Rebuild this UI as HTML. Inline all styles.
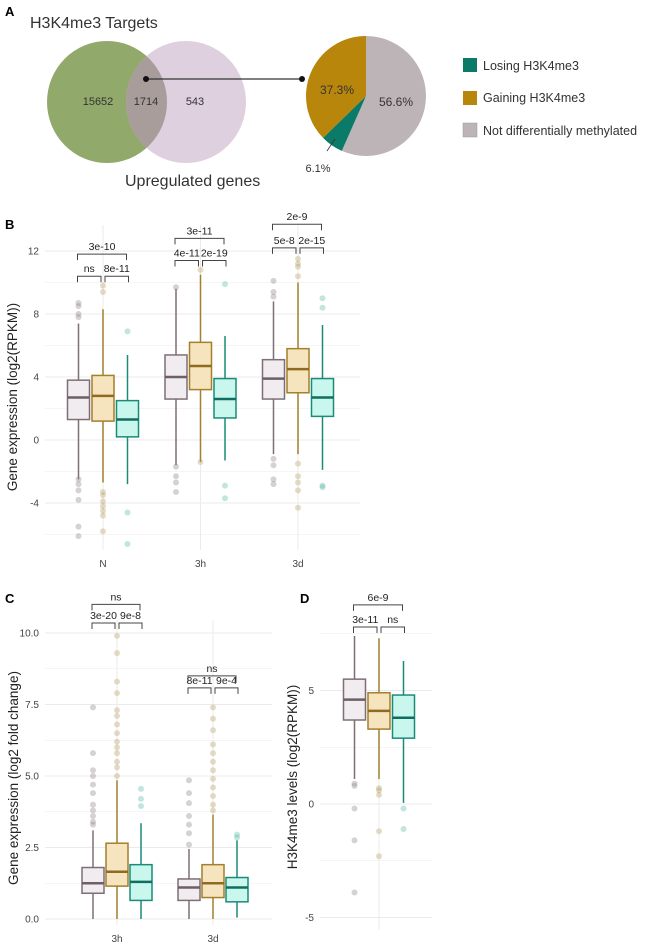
<!DOCTYPE html>
<html><head><meta charset="utf-8"><style>
body{margin:0;background:#fff}
svg{display:block;font-family:"Liberation Sans",sans-serif}
</style></head><body>
<svg id="fig" width="649" height="949" viewBox="0 0 649 949" xmlns="http://www.w3.org/2000/svg">
<g>
<text x="5" y="16" font-size="13" font-weight="bold">A</text>
<text x="30" y="28" font-size="16" fill="#333">H3K4me3 Targets</text>
<ellipse cx="107" cy="102" rx="60" ry="61" fill="#92a96c"/>
<ellipse cx="186" cy="102" rx="60" ry="61" fill="#d9c8da" opacity="0.85"/>
<clipPath id="cg"><ellipse cx="107" cy="102" rx="60" ry="61"/></clipPath>
<ellipse cx="186" cy="102" rx="60" ry="61" fill="#a99d9b" clip-path="url(#cg)"/>
<text x="98" y="105" font-size="11" text-anchor="middle" fill="#333">15652</text>
<text x="146" y="105" font-size="11" text-anchor="middle" fill="#333">1714</text>
<text x="195" y="105" font-size="11" text-anchor="middle" fill="#333">543</text>
<text x="125" y="186" font-size="16" fill="#333">Upregulated genes</text>
<line x1="146" y1="79" x2="302" y2="79" stroke="#333" stroke-width="1.2"/>
<circle cx="146" cy="79" r="3" fill="#111"/>
<circle cx="302" cy="79" r="3" fill="#111"/>
<g id="pie"></g>
<text x="337" y="94" font-size="12" text-anchor="middle" fill="#333">37.3%</text>
<text x="396" y="106" font-size="12" text-anchor="middle" fill="#333">56.6%</text>
<line x1="327" y1="151" x2="335" y2="139" stroke="#333" stroke-width="0.8"/>
<text x="318" y="172" font-size="11" text-anchor="middle" fill="#333">6.1%</text>
<g>
<rect x="463" y="58" width="14" height="14" fill="#0b7a68"/>
<text x="483" y="70" font-size="12.5" fill="#333">Losing H3K4me3</text>
<rect x="463" y="91" width="14" height="14" fill="#b8860b"/>
<text x="483" y="102" font-size="12.5" fill="#333">Gaining H3K4me3</text>
<rect x="463" y="123" width="14" height="14" fill="#bdb4b7" stroke="#999" stroke-width="0.5"/>
<text x="483" y="135" font-size="12.5" fill="#333">Not differentially methylated</text>
</g>
</g>
<text x="5" y="229" font-size="13" font-weight="bold">B</text>
<text x="5" y="603" font-size="13" font-weight="bold">C</text>
<text x="300" y="603" font-size="13" font-weight="bold">D</text>
<g id="pb"></g>
<g id="pc"></g>
<g id="pd"></g>
</svg>
<script>
// Pie data
const pieLabels = ["Not differentially methylated","Losing H3K4me3","Gaining H3K4me3"];
const pieValues = [56.6, 6.1, 37.3];
const pieColors = ["#bdb4b7","#0b7a68","#b8860b"];

// Panel B data: [q1, median, q3, whiskerLow, whiskerHigh]
const bGroups = ["N","3h","3d"];
const bGrey = [[1.3,2.7,3.8,-2.5,7.4],[2.6,4.0,5.4,-1.6,9.6],[2.6,3.9,5.1,-0.9,8.8]];
const bGold = [[1.2,2.8,4.1,-2.7,8.3],[3.2,4.7,6.2,-1.4,10.5],[3.0,4.5,5.8,-0.9,10.0]];
const bTeal = [[0.2,1.3,2.5,-2.8,5.4],[1.4,2.6,3.9,-1.3,6.6],[1.5,2.7,3.9,-1.9,7.3]];
const bGreyOut = [[8.7,8.5,8.0,7.8,-2.5,-2.8,-3.2,-3.8,-5.5,-6.1],[9.7,-1.7,-2.3,-2.7,-3.3],[10.1,9.4,9.1,-1.2,-1.6,-2.5,-2.8]];
const bGoldOut = [[9.8,9.4,-3.3,-3.5,-3.9,-4.2,-4.5,-4.8,-5.8],[10.8,-1.4],[11.5,11.2,11.0,10.4,-1.5,-2.3,-2.7,-3.2,-4.3]];
const bTealOut = [[6.9,-4.6,-6.6],[9.9,-2.9,-3.7],[9.0,8.4,-2.9,-3.0]];
const bTicks = [12,8,4,0,-4];
const bLowP = [["ns","8e-11"],["4e-11","2e-19"],["5e-8","2e-15"]];
const bTopP = ["3e-10","3e-11","2e-9"];
const bLowY = [10.4,11.4,12.2];
const bTopY = [11.8,12.8,13.7];

// Panel C data
const cGroups = ["3h","3d"];
const cGrey = [[0.9,1.25,1.8,0,3.1],[0.65,1.1,1.4,0,2.45]];
const cGold = [[1.15,1.65,2.65,0,4.85],[0.75,1.25,1.9,0,3.65]];
const cTeal = [[0.65,1.3,1.9,0,3.35],[0.6,1.1,1.45,0.05,2.75]];
const cGreyOut = [[7.4,5.8,5.2,5.0,4.7,4.4,4.0,3.8,3.6,3.4,3.3],[4.85,4.4,4.05,3.6,3.3,3.0,2.6]];
const cGoldOut = [[9.9,9.3,8.3,7.9,7.3,7.1,6.8,6.5,6.2,6.0,5.8,5.5,5.3,5.0],[7.4,7.0,6.6,6.1,5.8,5.5,5.2,4.9,4.6,4.3,4.0,3.8]];
const cTealOut = [[4.55,4.2,3.95],[2.95,2.85]];
const cTicks = [10,7.5,5,2.5,0];
const cTickLabels = ["10.0","7.5","5.0","2.5","0.0"];
const cLowP = [["3e-20","9e-8"],["8e-11","9e-4"]];
const cTopP = ["ns","ns"];
const cLowY = [10.35,8.08];
const cTopY = [11.0,8.5];

// Panel D data
const dGroups = [""];
const dGrey = [[3.7,4.6,5.5,1.1,7.4]];
const dGold = [[3.3,4.1,4.9,1.1,7.3]];
const dTeal = [[2.9,3.8,4.8,0.05,6.3]];
const dGreyOut = [[0.9,0.8,-0.2,-1.6,-3.9]];
const dGoldOut = [[0.7,0.6,0.4,-1.2,-2.3]];
const dTealOut = [[-0.2,-1.1]];
const dTicks = [5,0,-5];
const dLowP = [["3e-11","ns"]];
const dTopP = ["6e-9"];
const dLowY = [7.8];
const dTopY = [8.77];

const NS = "http://www.w3.org/2000/svg";
function mk(parent, tag, attrs){const e=document.createElementNS(NS,tag);for(const k in attrs)e.setAttribute(k,attrs[k]);parent.appendChild(e);return e;}

// Pie
(function(){
  const g=document.getElementById('pie');const cx=366,cy=96,r=60;
  const total=pieValues.reduce((a,b)=>a+b,0);let a0=0;
  pieValues.forEach((v,i)=>{
    const a1=a0+v/total*2*Math.PI;
    const x0=cx+r*Math.sin(a0),y0=cy-r*Math.cos(a0),x1=cx+r*Math.sin(a1),y1=cy-r*Math.cos(a1);
    const p=mk(g,'path',{d:`M${cx},${cy}L${x0},${y0}A${r},${r} 0 ${(a1-a0)>Math.PI?1:0} 1 ${x1},${y1}Z`,fill:pieColors[i]});
    
    
    a0=a1;
  });
})();

const styles=[
  {fill:"#f1ecef",stroke:"#7e6f76",med:"#6e5f66",out:"#8a7d84",name:"not-diff"},
  {fill:"#f6e4be",stroke:"#a47f2c",med:"#8e6b1e",out:"#b39a5c",name:"gaining"},
  {fill:"#c9f7ee",stroke:"#1b8b79",med:"#0f6e5f",out:"#4fb5a3",name:"losing"}
];

function panel(cfg){
  const g=document.getElementById(cfg.id);
  const y=v=>cfg.y0-(v-cfg.vZero)*cfg.ppu;
  const xg=i=>cfg.gx0+i*cfg.gstep;
  cfg.grid.forEach(v=>{const l=mk(g,'line',{x1:cfg.left,x2:cfg.right,y1:y(v),y2:y(v),stroke:"#ebebeb","stroke-width":cfg.ticks.includes(v)?1:0.6});
    
    });
  cfg.groups.forEach((gname,i)=>{const l=mk(g,'line',{x1:xg(i),x2:xg(i),y1:cfg.top,y2:cfg.bottom,stroke:"#ebebeb","stroke-width":1});
    
    
    if(gname){const t=mk(g,'text',{x:xg(i),y:cfg.bottom+17,"font-size":10,"text-anchor":"middle",fill:"#444"});t.textContent=gname;
    
    }
  });
  cfg.ticks.forEach((v,k)=>{const t=mk(g,'text',{x:cfg.left-6,y:y(v)+3.5,"font-size":10,"text-anchor":"end",fill:"#444"});t.textContent=cfg.tickLabels?cfg.tickLabels[k]:String(v);
    
    });
  const yl=mk(g,'text',{x:0,y:0,"font-size":13.5,"text-anchor":"middle",fill:"#222",transform:`translate(${cfg.ylx},${cfg.yly}) rotate(-90)`});
  yl.textContent=cfg.ylabel;
  
  
  const series=[cfg.grey,cfg.gold,cfg.teal],outs=[cfg.greyOut,cfg.goldOut,cfg.tealOut];
  const hw=11;
  cfg.groups.forEach((gname,i)=>{
    series.forEach((s,j)=>{
      const st=styles[j],cx=xg(i)+(j-1)*cfg.off,d=s[i];
      const w=mk(g,'line',{x1:cx,x2:cx,y1:y(d[3]),y2:y(d[4]),stroke:st.stroke,"stroke-width":1.5});
      
      
      const b=mk(g,'rect',{x:cx-hw,y:y(d[2]),width:hw*2,height:y(d[0])-y(d[2]),fill:st.fill,stroke:st.stroke,"stroke-width":1.5});
      
      
      const m=mk(g,'line',{x1:cx-hw,x2:cx+hw,y1:y(d[1]),y2:y(d[1]),stroke:st.med,"stroke-width":2.5});
      
      
      outs[j][i].forEach(v=>{const c=mk(g,'circle',{cx:cx,cy:y(v),r:3,fill:st.out,"fill-opacity":0.35});
        
        });
    });
    const br=(x1,x2,v,label)=>{const yy=y(v);
      const p=mk(g,'path',{d:`M${x1},${yy+6}V${yy}H${x2}V${yy+6}`,fill:"none",stroke:"#444","stroke-width":1});
      
      
      const t=mk(g,'text',{x:(x1+x2)/2,y:yy-4,"font-size":10.5,"text-anchor":"middle",fill:"#222"});t.textContent=label;
      
      };
    const c0=xg(i)-cfg.off,c1=xg(i),c2=xg(i)+cfg.off;
    br(c0-1,c1-2,cfg.lowY[i],cfg.lowP[i][0]);
    br(c1+2,c2+1,cfg.lowY[i],cfg.lowP[i][1]);
    br(c0-1,c2-1,cfg.topY[i],cfg.topP[i]);
  });
}

panel({id:'pb',y0:440,vZero:0,ppu:15.75,left:45,right:360,top:225,bottom:550,gx0:103,gstep:97.5,off:24.5,
  grid:[12,10,8,6,4,2,0,-2,-4,-6],ticks:bTicks,groups:bGroups,grey:bGrey,gold:bGold,teal:bTeal,
  greyOut:bGreyOut,goldOut:bGoldOut,tealOut:bTealOut,lowP:bLowP,topP:bTopP,lowY:bLowY,topY:bTopY,
  ylabel:"Gene expression (log2(RPKM))",ylx:17,yly:397});
panel({id:'pc',y0:919,vZero:0,ppu:28.6,left:45,right:272,top:620,bottom:925,gx0:117,gstep:96,off:24,
  grid:[10,8.75,7.5,6.25,5,3.75,2.5,1.25,0],ticks:cTicks,tickLabels:cTickLabels,groups:cGroups,grey:cGrey,gold:cGold,teal:cTeal,
  greyOut:cGreyOut,goldOut:cGoldOut,tealOut:cTealOut,lowP:cLowP,topP:cTopP,lowY:cLowY,topY:cTopY,
  ylabel:"Gene expression (log2 fold change)",ylx:18,yly:778});
panel({id:'pd',y0:804,vZero:0,ppu:22.7,left:320,right:432,top:640,bottom:930,gx0:379,gstep:0,off:24.5,
  grid:[7.5,5,2.5,0,-2.5,-5],ticks:dTicks,groups:dGroups,grey:dGrey,gold:dGold,teal:dTeal,
  greyOut:dGreyOut,goldOut:dGoldOut,tealOut:dTealOut,lowP:dLowP,topP:dTopP,lowY:dLowY,topY:dTopY,
  ylabel:"H3K4me3 levels (log2(RPKM))",ylx:297,yly:777});
</script>
</body></html>
